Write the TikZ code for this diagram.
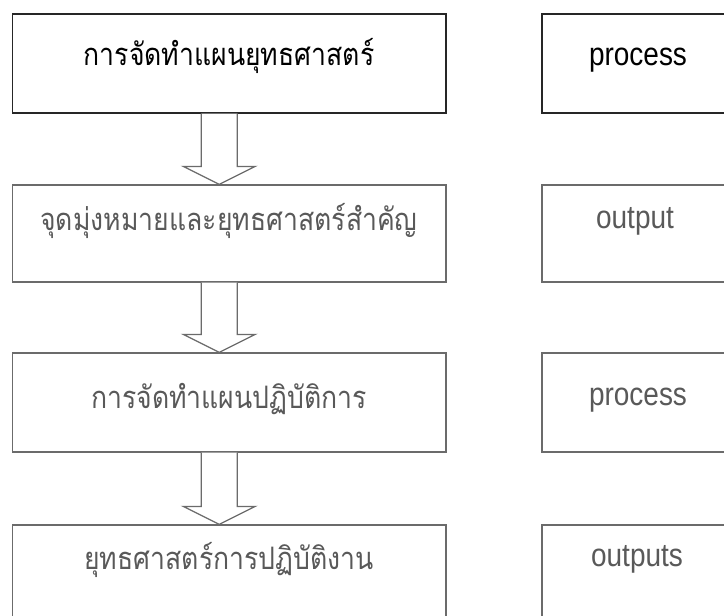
\documentclass[tikz,border=0pt]{standalone}
\usepackage{fontspec}
\setmainfont{Liberation Sans}
\newfontfamily\thaifont[Script=Thai, FakeStretch=0.86]{Loma}
\newfontfamily\latfont[FakeStretch=0.86]{Liberation Sans}
\usetikzlibrary{calc}
\definecolor{edgedark}{gray}{0.15}
\definecolor{edgegray}{gray}{0.42}
\definecolor{txtgray}{gray}{0.35}
\begin{document}
\begin{tikzpicture}[x=0.75pt,y=-0.75pt,
  leftbox/.style={draw=edgegray, line width=0.9pt, minimum width=325.1pt, minimum height=74.25pt, inner sep=0pt},
  rightbox/.style={draw=edgegray, line width=0.9pt, minimum width=163.5pt, minimum height=74.25pt, inner sep=0pt},
  thaitxt/.style={anchor=base, text=txtgray, font=\thaifont\fontsize{23.2}{27}\selectfont},
  lattxt/.style={anchor=base, text=txtgray, font=\latfont\fontsize{24.4}{28}\selectfont},
  blockarrow/.style={draw=edgegray, line width=0.9pt, fill=white, line join=miter}]
\useasboundingbox (0,0) rectangle (724,615);
\clip (0,0) rectangle (724,615);
% left column boxes
\node[leftbox, draw=edgedark] (b1) at (229.25,63.5) {};
\node[leftbox, minimum height=72.75pt] (b2) at (229.25,233.5) {};
\node[leftbox] (b3) at (229.25,402.5) {};
\node[leftbox] (b4) at (229.25,574.5) {};
% right column boxes
\node[rightbox, draw=edgedark] (r1) at (651,63.5) {};
\node[rightbox, minimum height=72.75pt] (r2) at (651,233.5) {};
\node[rightbox] (r3) at (651,402.5) {};
\node[rightbox] (r4) at (651,574.5) {};
% texts
\node[thaitxt, text=black] (t1) at (229,65) {การจัดทำแผนยุทธศาสตร์};
\node[thaitxt] (t2) at (229,230) {จุดมุ่งหมายและยุทธศาสตร์สำคัญ};
\node[thaitxt] (t3) at (229,408) {การจัดทำแผนปฏิบัติการ};
\node[thaitxt] (t4) at (229,569) {ยุทธศาสตร์การปฏิบัติงาน};
\node[lattxt, text=black] (p1) at (638,65) {process};
\node[lattxt] (p2) at (635,228) {output};
\node[lattxt] (p3) at (638,405) {process};
\node[lattxt] (p4) at (637,566) {outputs};
% block arrows
\foreach \a/\b in {b1/b2, b2/b3, b3/b4}{
  \draw[blockarrow]
    ($(\a.south)+(-28,0)$) -- ($(\b.north)+(-28,-18)$) -- ($(\b.north)+(-46,-18)$)
    -- ($(\b.north)+(-10,0)$) -- ($(\b.north)+(26,-18)$) -- ($(\b.north)+(8,-18)$)
    -- ($(\a.south)+(8,0)$);
}
\end{tikzpicture}
\end{document}
